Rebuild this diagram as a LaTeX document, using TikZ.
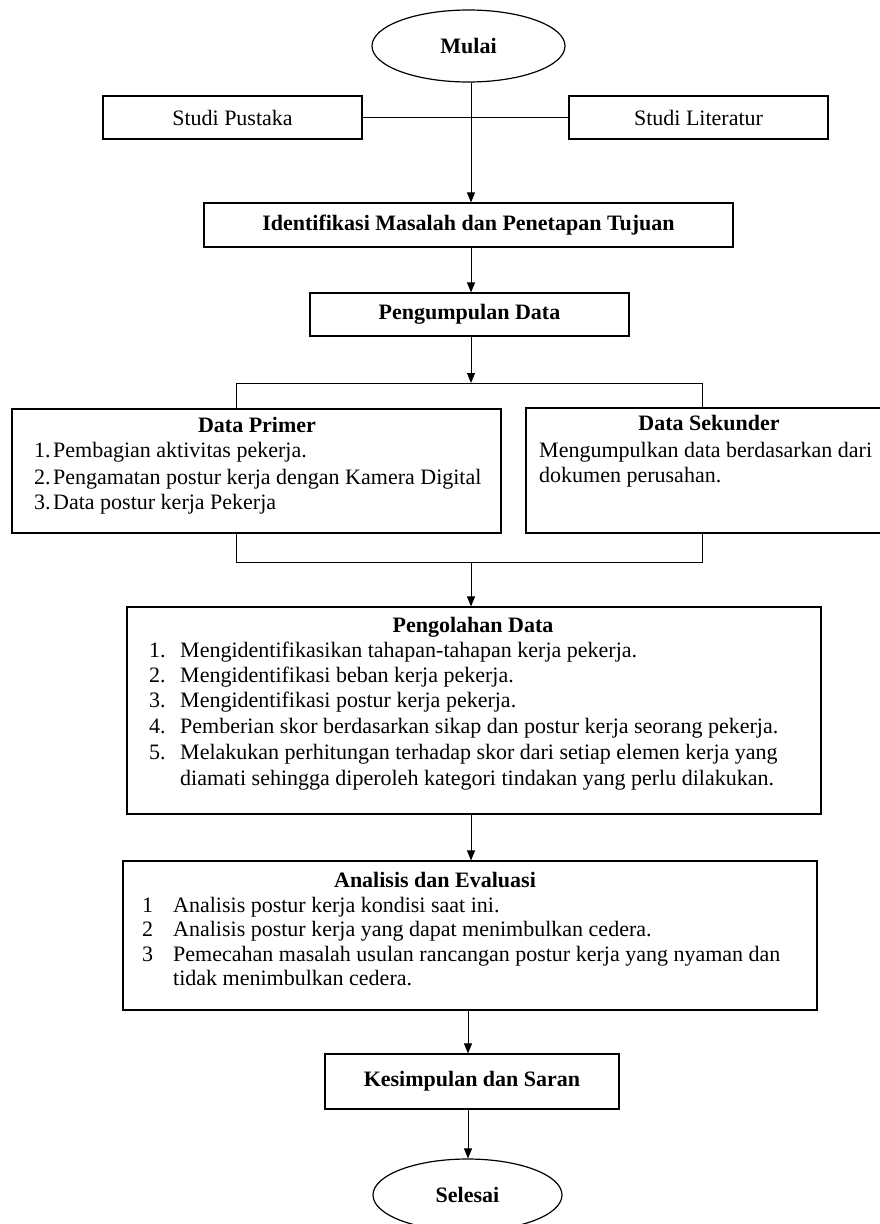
\documentclass[tikz,border=0pt]{standalone}
\usepackage{fontspec}
\setmainfont{Liberation Serif}
\usetikzlibrary{shapes.geometric,arrows.meta}
\begin{document}
\begin{tikzpicture}[x=1pt,y=-1pt,
  every node/.style={font=\fontsize{22}{26}\selectfont},
  rbox/.style={draw,line width=1.2pt,inner sep=0pt},
  oval/.style={draw,ellipse,line width=1.2pt,inner sep=0pt},
  ttl/.style={inner sep=0pt,anchor=mid,font=\fontsize{22}{26}\selectfont\bfseries},
  txt/.style={inner sep=0pt,anchor=mid west},
  conn/.style={line width=1pt},
  arr/.style={line width=1pt,-{Triangle[length=10pt,width=8pt]}}]
\useasboundingbox (0,0) rectangle (880,1224);
\fill[white] (0,0) rectangle (880,1224);

% shapes
\node[oval,minimum width=193pt,minimum height=72pt] (mulai) at (468.5,46) {\bfseries Mulai};
\node[rbox,minimum width=259pt,minimum height=43pt] (pustaka) at (232.5,117.5) {Studi Pustaka};
\node[rbox,minimum width=259pt,minimum height=43pt] (literatur) at (698.5,117.5) {Studi Literatur};
\node[rbox,minimum width=529pt,minimum height=44pt] (ident) at (468.5,225) {\bfseries Identifikasi Masalah dan Penetapan Tujuan};
\node[rbox,minimum width=319pt,minimum height=43pt] (kumpul) at (469.5,314.5) {\bfseries Pengumpulan Data};
\node[rbox,minimum width=489pt,minimum height=124pt] (primer) at (256.5,471) {};
\node[rbox,minimum width=366pt,minimum height=125pt] (sekunder) at (709,470.5) {};
\node[rbox,minimum width=694pt,minimum height=207pt] (olah) at (474,710.5) {};
\node[rbox,minimum width=694pt,minimum height=149pt] (analisis) at (470,935.5) {};
\node[rbox,minimum width=294pt,minimum height=55pt] (simpul) at (472,1081.5) {\bfseries Kesimpulan dan Saran};
\node[oval,minimum width=189pt,minimum height=72pt] (selesai) at (467.5,1195) {\bfseries Selesai};

% Data Primer
\node[ttl] (pt) at (257,430) {Data Primer};
\node[txt] (pn1) at (34,455) {1.};
\node[txt] (pl1) at (53,455) {Pembagian aktivitas pekerja.};
\node[txt] (pn2) at (34,482) {2.};
\node[txt] (pl2) at (53,482) {Pengamatan postur kerja dengan Kamera Digital};
\node[txt] (pn3) at (34,507) {3.};
\node[txt] (pl3) at (53,507) {Data postur kerja Pekerja};

% Data Sekunder
\node[ttl] (st) at (709,428) {Data Sekunder};
\node[txt] (sl1) at (539,455) {Mengumpulkan data berdasarkan dari};
\node[txt] (sl2) at (539,480) {dokumen perusahan.};

% Pengolahan Data
\node[ttl] (ot) at (473,630) {Pengolahan Data};
\node[txt] (on1) at (149,655) {1.};
\node[txt] (ol1) at (180,655) {Mengidentifikasikan tahapan-tahapan kerja pekerja.};
\node[txt] (on2) at (149,680) {2.};
\node[txt] (ol2) at (180,680) {Mengidentifikasi beban kerja pekerja.};
\node[txt] (on3) at (149,705) {3.};
\node[txt] (ol3) at (180,705) {Mengidentifikasi postur kerja pekerja.};
\node[txt] (on4) at (149,731) {4.};
\node[txt] (ol4) at (180,731) {Pemberian skor berdasarkan sikap dan postur kerja seorang pekerja.};
\node[txt] (on5) at (149,757) {5.};
\node[txt] (ol5) at (180,757) {Melakukan perhitungan terhadap skor dari setiap elemen kerja yang};
\node[txt] (ol6) at (180,783) {diamati sehingga diperoleh kategori tindakan yang perlu dilakukan.};

% Analisis dan Evaluasi
\node[ttl] (at) at (435,885) {Analisis dan Evaluasi};
\node[txt] (an1) at (142,910) {1};
\node[txt] (al1) at (173,910) {Analisis postur kerja kondisi saat ini.};
\node[txt] (an2) at (142,934) {2};
\node[txt] (al2) at (173,934) {Analisis postur kerja yang dapat menimbulkan cedera.};
\node[txt] (an3) at (142,959) {3};
\node[txt] (al3) at (173,959) {Pemecahan masalah usulan rancangan postur kerja yang nyaman dan};
\node[txt] (al4) at (173,983) {tidak menimbulkan cedera.};

% guide coordinates
\coordinate (sx) at (471,0);
\coordinate (bx) at (468,0);
\coordinate (lx) at (236,0);
\coordinate (rx) at (702,0);
\coordinate (jt) at (471,383);
\coordinate (jb) at (471,562);

% connectors
\draw[conn] (pustaka.east) -- (literatur.west);
\draw[arr] (mulai.south -| sx) -- (ident.north -| sx);
\draw[arr] (ident.south -| sx) -- (kumpul.north -| sx);
\draw[arr] (kumpul.south -| sx) -- (jt);
\draw[conn] (primer.north -| lx) -- (jt -| lx) -- (jt -| rx) -- (sekunder.north -| rx);
\draw[conn] (primer.south -| lx) -- (jb -| lx) -- (jb -| rx) -- (sekunder.south -| rx);
\draw[arr] (jb) -- (olah.north -| sx);
\draw[arr] (olah.south -| sx) -- (analisis.north -| sx);
\draw[arr] (analisis.south -| bx) -- (simpul.north -| bx);
\draw[arr] (simpul.south -| bx) -- (selesai.north -| bx);
\end{tikzpicture}
\end{document}
